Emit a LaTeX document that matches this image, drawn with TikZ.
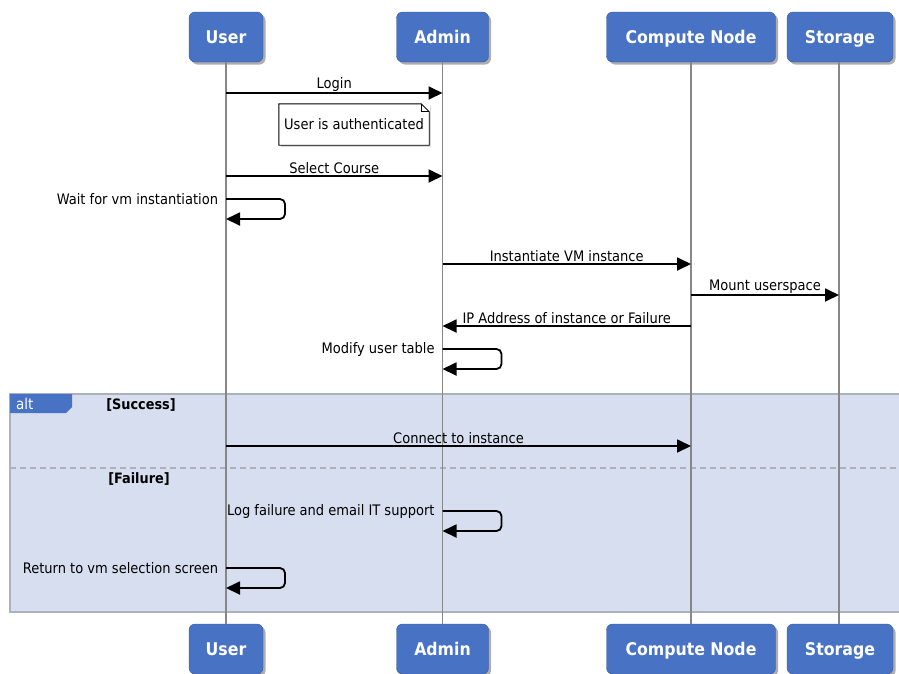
\documentclass[tikz,border=0pt]{standalone}
\usepackage{fontspec}
\setmainfont{DejaVu Sans Condensed}
\usetikzlibrary{arrows.meta,shadows}
\definecolor{headblue}{RGB}{72,114,196}
\definecolor{headborder}{RGB}{55,88,158}
\definecolor{framefill}{RGB}{214,222,240}
\definecolor{frameborder}{RGB}{172,178,188}
\definecolor{lifegray}{RGB}{135,135,135}
\tikzset{
  head/.style={draw=headborder, fill=headblue, rounded corners=6pt, minimum height=50pt,
    text=white, font=\fontsize{17.5}{20}\selectfont\bfseries, inner sep=0pt,
    text height=12.6pt, text depth=0pt,
    drop shadow={shadow xshift=2.5pt, shadow yshift=-2.5pt, opacity=0.45, fill=black!70}},
  life/.style={draw=lifegray, line width=1.4pt},
  msg/.style={draw=black, line width=1.8pt, -{Triangle[length=14pt,width=13pt]}},
  selfmsg/.style={msg, rounded corners=5pt},
  lbl/.style={font=\fontsize{14.5}{16}\selectfont, inner sep=1pt, text=black},
  guard/.style={font=\fontsize{14.3}{16}\selectfont\bfseries, inner sep=1pt},
}
\begin{document}
\begin{tikzpicture}[x=1pt,y=-1pt]
\useasboundingbox (0,0) rectangle (899,673);
% alt frame
\fill[framefill] (10,394) rectangle (899,612);
\draw[frameborder, line width=1.4pt] (899,394) -- (10,394) -- (10,612) -- (899,612);
\draw[frameborder, line width=1.2pt, dash pattern=on 6pt off 4pt] (10,468) -- (899,468);
\fill[headblue] (10,394) -- (72,394) -- (72,407) -- (66,413) -- (10,413) -- cycle;
\node[lbl, text=white, anchor=west, font=\fontsize{15}{16}\selectfont] (alt) at (15,403.5) {alt};
\node[guard] (gs) at (141,405) {[Success]};
\node[guard] (gf) at (139,479) {[Failure]};
% heads
\node[head, minimum width=74pt]  (uT) at (226,37) {User};
\node[head, minimum width=92pt]  (aT) at (442.5,37) {Admin};
\node[head, minimum width=169pt] (cT) at (691,37) {Compute Node};
\node[head, minimum width=106pt] (sT) at (840,37) {Storage};
\node[head, minimum width=74pt]  (uB) at (226,649) {User};
\node[head, minimum width=92pt]  (aB) at (442.5,649) {Admin};
\node[head, minimum width=169pt] (cB) at (691,649) {Compute Node};
\node[head, minimum width=106pt] (sB) at (840,649) {Storage};
% lifelines
\draw[life] (uT.south) -- (uB.north);
\draw[life] (aT.south) -- (aB.north);
\draw[life] (cT.south) -- (cB.north);
\draw[life] ([xshift=-1pt]sT.south) -- ([xshift=-1pt]sB.north);
% messages
\draw[msg] (uT.south |- 0,93) -- node[lbl, above=0pt] {Login} (aT.south |- 0,93);
% note
\node[lbl, fill=white, minimum width=150pt, minimum height=41pt,
  drop shadow={shadow xshift=2pt, shadow yshift=-2pt, opacity=0.3}] (note) at (354,124.5) {User is authenticated};
\draw[black, line width=0.9pt] (note.south west) -- (note.north west) -- ([xshift=-8pt]note.north east)
  -- ([yshift=-8pt]note.north east) -- (note.south east) -- cycle;
\fill[white] ([xshift=-7.5pt,yshift=0.6pt]note.north east) -- ([xshift=0.6pt,yshift=-7.5pt]note.north east) -- ([xshift=0.6pt,yshift=0.6pt]note.north east) -- cycle;
\draw[black, line width=0.9pt] ([xshift=-8pt]note.north east) -- ([xshift=-8pt,yshift=-8pt]note.north east) -- ([yshift=-8pt]note.north east);
\draw[msg] (uT.south |- 0,176) -- node[lbl, above=0pt] {Select Course} (aT.south |- 0,176);
\draw[selfmsg] (uT.south |- 0,199) -- node[at start, lbl, anchor=east, xshift=-6pt] {Wait for vm instantiation} ++(59,0) -- ++(0,20) -- (uT.south |- 0,219);
\draw[msg] (aT.south |- 0,264) -- node[lbl, above=0pt] {Instantiate VM instance} (cT.south |- 0,264);
\draw[msg] (cT.south |- 0,295) -- node[lbl, above=0pt] {Mount userspace} ([xshift=-1pt]sT.south |- 0,295);
\draw[msg] (cT.south |- 0,326) -- node[lbl, above=0pt] {IP Address of instance or Failure} (aT.south |- 0,326);
\draw[selfmsg] (aT.south |- 0,349) -- node[at start, lbl, anchor=east, xshift=-6pt] {Modify user table} ++(59,0) -- ++(0,20) -- (aT.south |- 0,369);
\draw[msg] (uT.south |- 0,446) -- node[lbl, above=0pt] {Connect to instance} (cT.south |- 0,446);
\draw[selfmsg] (aT.south |- 0,511) -- node[at start, lbl, anchor=east, xshift=-6pt] {Log failure and email IT support} ++(59,0) -- ++(0,20) -- (aT.south |- 0,531);
\draw[selfmsg] (uT.south |- 0,568) -- node[at start, lbl, anchor=east, xshift=-6pt] {Return to vm selection screen} ++(59,0) -- ++(0,20) -- (uT.south |- 0,588);
\end{tikzpicture}
\end{document}
